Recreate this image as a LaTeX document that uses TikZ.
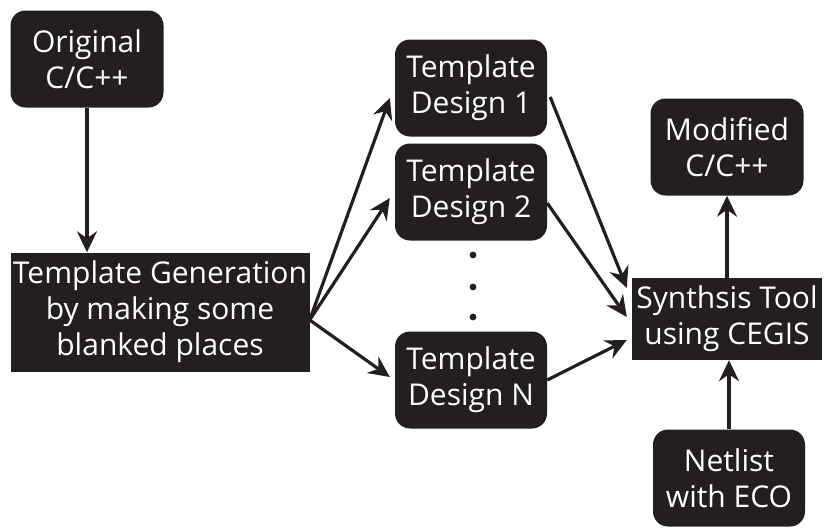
\documentclass[tikz,border=0pt]{standalone}
\usepackage{fontspec}
\setmainfont{Open Sans}
\usepackage{xcolor}
\usetikzlibrary{arrows.meta,positioning}

\definecolor{boxblack}{HTML}{231F20}

\tikzset{
  block/.style={fill=boxblack, text=white, align=center, inner sep=0pt,
    font=\fontsize{30}{36}\selectfont},
  roundbox/.style={block, rounded corners=15pt, minimum width=153pt, minimum height=97pt},
  flatbox/.style={block},
  flow/.style={draw=boxblack, line width=3.2pt,
    -{Stealth[length=21pt, width=20pt, inset=7pt]}}
}

\begin{document}
\begin{tikzpicture}
    \useasboundingbox (0pt,0pt) rectangle (824pt,-528pt);

    % Source and template generation
    \node[roundbox] (orig) at (87pt,-59pt) {Original\\C/C++};
    \node[flatbox, minimum width=299pt, minimum height=119pt, below of=orig, node distance=253pt, xshift=73pt] (gen) {Template Generation\\by making some\\blanked places};

    % Template designs
    \node[roundbox, minimum width=152pt] (td1) at (471pt,-88pt) {Template\\Design 1};
    \node[roundbox, minimum width=152pt, below of=td1, node distance=104pt] (td2) {Template\\Design 2};
    \node[roundbox, minimum width=152pt, below of=td2, node distance=188pt] (tdn) {Template\\Design N};
    \foreach \y in {255,287,317}
        \fill[boxblack] (473pt,-\y pt) circle (3.4pt);

    % Synthesis side
    \node[flatbox, minimum width=190pt, minimum height=82pt] (synth) at (727pt,-319pt) {Synthsis Tool\\using CEGIS};
    \node[roundbox, above of=synth, node distance=172pt] (mod) {Modified\\C/C++};
    \node[roundbox, minimum width=152pt, below of=synth, node distance=159pt, xshift=2pt] (net) {Netlist\\with ECO};

    % Connections
    \draw[flow] (orig) -- (orig |- gen.north);
    \draw[flow] ([yshift=-8pt]gen.east) -- ([xshift=-5pt,yshift=-10pt]td1.west);
    \draw[flow] ([yshift=-8pt]gen.east) -- ([xshift=-5pt,yshift=-6pt]td2.west);
    \draw[flow] ([yshift=-8pt]gen.east) -- ([xshift=-5pt,yshift=3pt]tdn.west);
    \draw[flow] ([xshift=3pt,yshift=-9pt]td1.east) -- ([xshift=-5pt,yshift=31pt]synth.west);
    \draw[flow] ([yshift=-11pt]td2.east) -- ([xshift=-5pt,yshift=2pt]synth.west);
    \draw[flow] (tdn.east) -- ([xshift=-5pt,yshift=-21pt]synth.west);
    \draw[flow] (synth) -- (mod);
    \draw[flow] (net) -- (synth.south -| net);
\end{tikzpicture}
\end{document}
